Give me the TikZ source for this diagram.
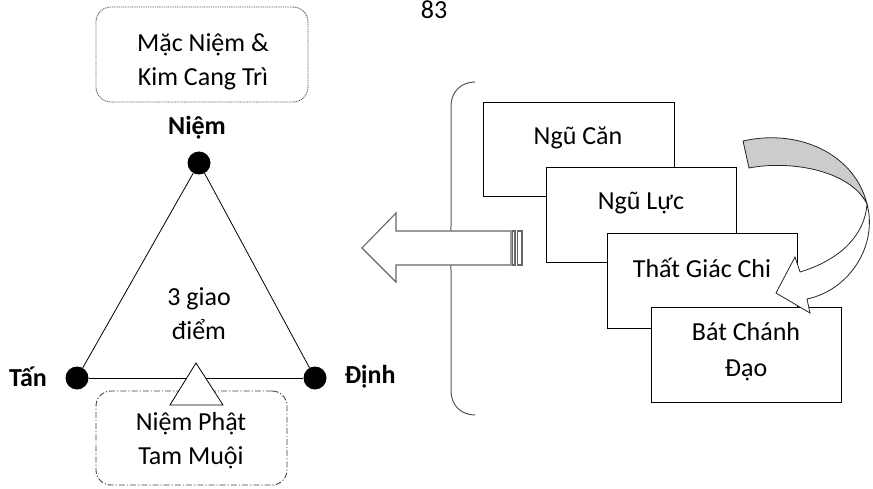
\documentclass[tikz,border=0pt]{standalone}
\usepackage{fontspec}
\setmainfont{Carlito}
\begin{document}
\begin{tikzpicture}[x=1pt,y=-1pt,
  txt/.style={font=\fontsize{26}{34}\selectfont, align=center, inner sep=0pt},
  lbl/.style={font=\fontsize{26}{34}\selectfont\bfseries, inner sep=0pt},
  dotnode/.style={circle, fill=black, minimum size=23pt, inner sep=0pt},
  stackbox/.style={draw=black, fill=white, line width=0.9pt, minimum width=190pt, minimum height=95pt, inner sep=0pt},
  tri/.style={draw=black, line width=0.8pt},
  greyline/.style={draw=black!60, line width=1.1pt}]
\useasboundingbox (0,0) rectangle (873,489);

% page number
\node[txt, anchor=base] (pg) at (434,18.5) {83};

% top box
\node[draw=black!65, line width=0.9pt, dash pattern=on 1pt off 0.8pt, rounded corners=15pt,
      minimum width=212pt, minimum height=95pt, inner sep=0pt] (topbox) at (202,54.5) {};
\node[txt] (toptxt) at (203,62) {Mặc Niệm \&\\Kim Cang Trì};

% triangle
\node[dotnode] (nA) at (199,163) {};
\node[dotnode] (nB) at (77,378) {};
\node[dotnode] (nC) at (315,378) {};
\draw[tri] (nA) -- (nB);
\draw[tri] (nA) -- (nC);
\draw[tri] (nB) -- (nC);
\node[lbl] (lA) at (197,128) {Niệm};
\node[lbl] (lB) at (28,377) {Tấn};
\node[lbl] (lC) at (370,377) {Định};
\node[txt] (center) at (199,314) {3 giao\\điểm};

% bottom box
\node[draw=black!75, line width=0.9pt, dash pattern=on 6pt off 2pt on 1.2pt off 2pt, rounded corners=15pt,
      minimum width=191pt, minimum height=94pt, inner sep=0pt] (botbox) at (191.5,438) {};
\coordinate (s1) at (196,363);
\coordinate (s2) at (170,405);
\coordinate (s3) at (223,405);
\draw[draw=black, line width=0.8pt, fill=white] (s1) -- (s2) -- (s3) -- cycle;
\node[txt] (bottxt) at (191,441) {Niệm Phật\\Tam Muội};

% brace
\draw[draw=black!65, line width=1pt] (475,82) .. controls (461,82) and (451,92) .. (451,106)
   -- (451,226) .. controls (451,238) and (449,246) .. (445,248)
   .. controls (449,250) and (451,258) .. (451,270)
   -- (451,391) .. controls (451,405) and (461,415) .. (475,415);

% big left arrow
\coordinate (a0) at (362,248);
\draw[greyline, fill=white] (a0) -- (396,213) -- (396,231) -- (511,231) -- (511,265) -- (396,265) -- (396,282) -- cycle;
\draw[greyline, fill=white] (512.5,231) rectangle (515,265);
\draw[greyline, fill=white] (517.5,231) rectangle (522,265);

% stacked boxes
\node[stackbox, minimum width=191pt, minimum height=94pt] (b1) at (578.5,149) {};
\node[txt] (t1) at (578,138) {Ngũ Căn};
\node[stackbox] (b2) at (641,214.5) {};
\node[txt] (t2) at (641,203) {Ngũ Lực};
\node[stackbox] (b3) at (702,280.5) {};
\node[txt] (t3) at (702,268) {Thất Giác Chi};
\node[stackbox] (b4) at (746,354.5) {};
\node[txt, font=\fontsize{26}{36}\selectfont] (t4) at (746,352) {Bát Chánh\\Đạo};

% curved arrow
\coordinate (cx) at (867,204);
\draw[draw=black!85, line width=0.8pt, fill=black!20] (743,141) .. controls (800,128) and (855,155) .. (cx)
   .. controls (850,170) and (790,160) .. (749,168) -- cycle;
\draw[draw=black!85, line width=0.8pt, fill=white] (cx) .. controls (878,245) and (850,290) .. (807,299)
   -- (810,313) -- (776,293) -- (795,257) -- (800,272)
   .. controls (840,260) and (865,235) .. (cx) -- cycle;
\end{tikzpicture}
\end{document}
